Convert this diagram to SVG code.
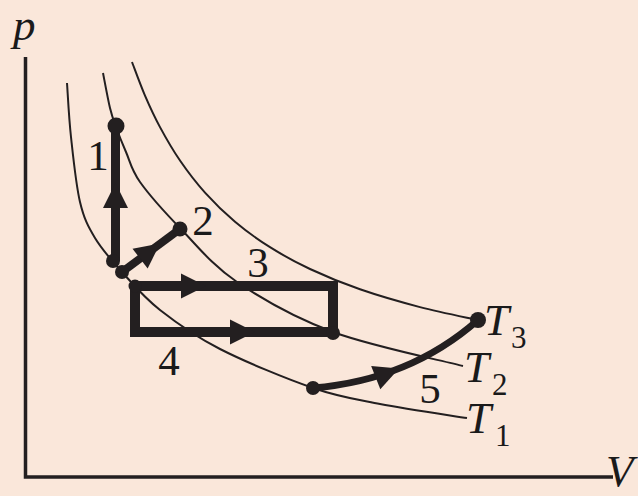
<svg xmlns="http://www.w3.org/2000/svg" width="638" height="496" viewBox="0 0 638 496">
<style>
.iso{fill:none;stroke:#231f20;stroke-width:2}
.proc{fill:none;stroke:#231f20;stroke-linecap:butt}
.dot{fill:#231f20}
.lbl{font-family:"Liberation Serif","DejaVu Serif",serif;fill:#1a1a1a}
.num{font-size:43px;text-anchor:middle}
.it{font-style:italic;font-size:45px}
.sub{font-size:31px}
</style>
<defs>
<path id="ah" d="M0,0 L-25,-12.5 L-25,12.5 Z" fill="#231f20"/>
</defs>
<rect width="638" height="496" fill="#fae7da"/>
<g id="axes">
<path d="M25.5,57 V477 H613" fill="none" stroke="#231f20" stroke-width="3.5"/>
<text class="lbl it" x="13" y="40" font-size="46">p</text>
<text class="lbl it" x="606" y="486" font-size="40">V</text>
</g>
<g id="isotherms">
<g id="T1">
<path class="iso" d="M67,83 C67.670,92 68.830,117.170 71,137 C73.170,156.830 76,185.170 80,202 C84,218.830 88,226.330 95,238 C102,249.670 111.170,260 122,272 C132.830,284 143.670,297.170 160,310 C176.330,322.830 194.500,336 220,349 C245.500,362 286.330,378.830 313,388 C339.670,397.170 354.330,399 380,404 C405.670,409 452.500,415.670 467,418"/>
<text class="lbl it" x="466" y="433">T</text><text class="lbl sub" x="495" y="446">1</text>
</g>
<g id="T2">
<path class="iso" d="M103,73 C104.170,78.830 107.830,99 110,108 C112.170,117 113.330,119.670 116,127 C118.670,134.330 122,142.830 126,152 C130,161.170 131,169.330 140,182 C149,194.670 163.830,211.330 180,228 C196.170,244.670 211.500,264.670 237,282 C262.500,299.330 295.330,318 333,332 C370.670,346 441.330,360.330 463,366"/>
<text class="lbl it" x="464" y="382">T</text><text class="lbl sub" x="492" y="395">2</text>
</g>
<g id="T3">
<path class="iso" d="M132,62 C134.170,67.600 140.330,84.750 145,95.600 C149.670,106.450 154.170,116.280 160,127.100 C165.830,137.920 172.500,149.580 180,160.500 C187.500,171.420 195.830,182.400 205,192.600 C214.170,202.800 224.170,212.600 235,221.700 C245.830,230.800 257.500,239.320 270,247.200 C282.500,255.080 295,261.980 310,269 C325,276.020 341.670,282.950 360,289.300 C378.330,295.650 400.330,301.980 420,307.100 C439.670,312.220 468.330,317.850 478,320"/>
<text class="lbl it" x="484" y="335">T</text><text class="lbl sub" x="511" y="348">3</text>
</g>
</g>
<g id="connectors">
<path id="p1" class="proc" stroke-width="9" d="M115.5,261 V127"/>
<path id="p2" class="proc" stroke-width="8" d="M122,272 L180,229"/>
<rect id="p34" x="135" y="286" width="198" height="46" fill="none" stroke="#231f20" stroke-width="10"/>
<path id="p5" class="proc" stroke-width="7" d="M313,388 Q410,380 478,320"/>
<use href="#ah" transform="translate(115.5,183) rotate(-90)"/>
<use href="#ah" transform="translate(160,243.5) rotate(-37.2)"/>
<use href="#ah" transform="translate(206,286)"/>
<use href="#ah" transform="translate(255,332)"/>
<use href="#ah" transform="translate(399,368.5) rotate(-21.5)"/>
</g>
<g id="states">
<circle class="dot" cx="116" cy="126" r="8.5"/>
<circle class="dot" cx="113" cy="261" r="7"/>
<circle class="dot" cx="122" cy="272" r="7"/>
<circle class="dot" cx="180" cy="229" r="7.5"/>
<circle class="dot" cx="135" cy="286" r="6.5"/>
<circle class="dot" cx="333" cy="333" r="7"/>
<circle class="dot" cx="313" cy="388" r="7"/>
<circle class="dot" cx="478" cy="320" r="8"/>
</g>
<g id="labels">
<text class="lbl num" x="98" y="170">1</text>
<text class="lbl num" x="203" y="235">2</text>
<text class="lbl num" x="258" y="277">3</text>
<text class="lbl num" x="169" y="375">4</text>
<text class="lbl num" x="430" y="403">5</text>
</g>
</svg>
